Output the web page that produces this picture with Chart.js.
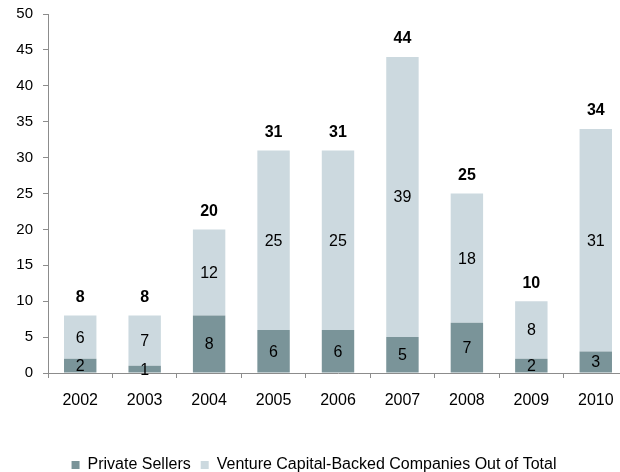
<!DOCTYPE html>
<html><head><meta charset="utf-8">
<script src="https://cdn.jsdelivr.net/npm/chart.js@4/dist/chart.umd.min.js"></script>
<style>html,body{margin:0;padding:0;overflow:hidden;background:#fff;width:620px;height:472px}#wrap{width:630px;height:484px}</style>
</head><body><div id="wrap"><canvas id="c" width="630" height="484"></canvas></div>
<script>
const categories = ['2002','2003','2004','2005','2006','2007','2008','2009','2010'];
const privateSellers = [2,1,8,6,6,5,7,2,3];
const ventureBacked = [6,7,12,25,25,39,18,8,31];
const totals = [8,8,20,31,31,44,25,10,34];
const yTicks = [0,5,10,15,20,25,30,35,40,45,50];

const FONT = 'Liberation Sans, Arial, sans-serif';
const labelPlugin = {
  id: 'labels',
  afterDatasetsDraw(chart) {
    const ctx = chart.ctx;
    ctx.save();
    ctx.textAlign = 'center';
    ctx.textBaseline = 'middle';
    ctx.fillStyle = '#000';
    ctx.font = '16px ' + FONT;
    chart.data.datasets.forEach((ds, di) => {
      const meta = chart.getDatasetMeta(di);
      meta.data.forEach((bar, i) => {
        const y = (bar.y + bar.base) / 2;
        ctx.fillText(String(ds.data[i]), bar.x, y + 1);
      });
    });
    ctx.font = 'bold 16px ' + FONT;
    const top = chart.getDatasetMeta(1);
    top.data.forEach((bar, i) => {
      ctx.fillText(String(totals[i]), bar.x, bar.y - 18);
    });
    ctx.restore();
  }
};

new Chart(document.getElementById('c'), {
  type: 'bar',
  data: {
    labels: categories,
    datasets: [
      { label: 'Private Sellers', data: privateSellers, backgroundColor: '#7a9499', barPercentage: 0.503, categoryPercentage: 1 },
      { label: 'Venture Capital-Backed Companies Out of Total', data: ventureBacked, backgroundColor: '#ccd9df', barPercentage: 0.503, categoryPercentage: 1 }
    ]
  },
  options: {
    responsive: false,
    animation: false,
    layout: { padding: { top: 14, right: 2, left: 0, bottom: 1 } },
    scales: {
      x: {
        stacked: true,
        afterFit: s => { s.height = 74; s.paddingLeft = 0; s.paddingRight = 0; },
        grid: { display: true, drawOnChartArea: false, color: '#8c8c8c', tickLength: 5, tickColor: '#8c8c8c' },
        border: { color: '#8c8c8c' },
        ticks: { color: '#000', font: { family: FONT, size: 16 }, padding: 13 }
      },
      y: {
        stacked: true,
        min: 0, max: 50,
        afterBuildTicks: s => { s.ticks = yTicks.map(v => ({ value: v })); },
        afterFit: s => { s.width = 48; s.paddingTop = 0; s.paddingBottom = 0; },
        grid: { display: true, drawOnChartArea: false, color: '#8c8c8c', tickLength: 5, tickColor: '#8c8c8c' },
        border: { color: '#8c8c8c' },
        ticks: { color: '#000', font: { family: FONT, size: 15 }, padding: 10 }
      }
    },
    plugins: {
      legend: {
        position: 'bottom',
        labels: { color: '#000', font: { family: FONT, size: 16 }, boxWidth: 8, boxHeight: 8, padding: 10 }
      },
      tooltip: { enabled: false }
    }
  },
  plugins: [labelPlugin]
});
</script></body></html>
